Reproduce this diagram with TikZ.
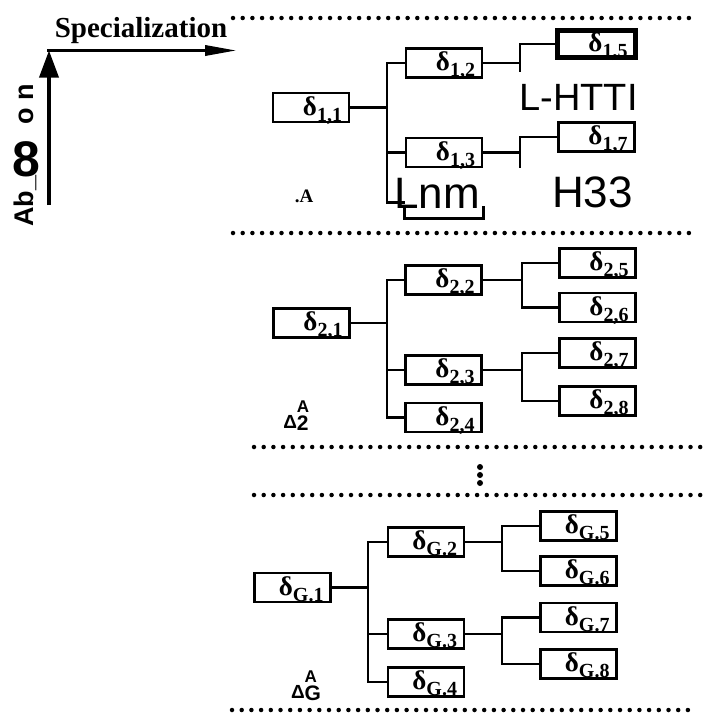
\documentclass[tikz,border=0pt]{standalone}
\usepackage{fontspec}
\setmainfont{Liberation Serif}
\newfontfamily\ocrsans{Liberation Sans}
\usetikzlibrary{arrows.meta}

\newcommand{\dlab}[1]{δ\raisebox{-6pt}{\fontsize{20}{20}\selectfont #1}}
\newcommand{\deltaset}[1]{{\ocrsans\bfseries\fontsize{19}{19}\selectfont Δ\rlap{\raisebox{16pt}{\fontsize{17}{17}\selectfont A}}\raisebox{-2pt}{\fontsize{21}{21}\selectfont #1}}}

\begin{document}
\begin{tikzpicture}[
    x=1pt, y=-1pt,
    block/.style={rectangle, draw, line width=2.6pt, minimum width=76pt, minimum height=29pt, text width=62pt, inner xsep=6pt, inner ysep=1pt, align=right, text height=20pt, text depth=5pt, font=\fontsize{27}{27}\selectfont\bfseries},
    chosen/.style={block, line width=5pt, minimum width=78pt, minimum height=27pt, inner ysep=0pt},
    link/.style={line width=2.5pt},
    axis/.style={line width=3.5pt},
    sepline/.style={line width=4.5pt, line cap=round, dash pattern=on 0pt off 9.7pt},
    scan/.style={font=\ocrsans\fontsize{38}{38}\selectfont, inner sep=0pt, anchor=base},
    caption/.style={font=\bfseries, inner sep=0pt, anchor=base}
]
\useasboundingbox (0,0) rectangle (709,715);

% Separators
\draw[sepline] (233,18) -- (690,18);
\draw[sepline] (233,233) -- (690,233);
\draw[sepline] (254,447) -- (709,447);
\draw[sepline] (254,495) -- (709,495);
\draw[sepline] (232,710) -- (693,710);
\foreach \yy in {467,475,483} \fill (480,\yy) circle (3pt);

% Axes
\coordinate (origin) at (49,50.5);
\coordinate (specend) at (237,50.5);
\coordinate (abstail) at (49,205);
\draw[axis, -{Triangle[length=27pt, width=19pt]}] (abstail) -- (origin);
\draw[axis, -{Triangle[length=32pt, width=10pt]}] ([xshift=-1.75pt]origin) -- (specend);
\node[caption, font=\bfseries\fontsize{29}{29}\selectfont] (spec) at (141,37) {Specialization};
\node[caption, font=\ocrsans\bfseries\fontsize{27}{27}\selectfont, rotate=90] (abs1) at (34,201) {Ab\_};
\node[caption, font=\ocrsans\bfseries\fontsize{50}{50}\selectfont] (abs2) at (26,176) {8};
\node[caption, font=\ocrsans\bfseries\fontsize{27}{27}\selectfont, rotate=90] (abs3) at (34,104) {o\hspace{8pt}n};

% Level 1
\node[block] (d11) at (311,107.5) {\dlab{1,1}};
\node[block] (d12) at (444,63) {\dlab{1,2}};
\node[block] (d13) at (444,152.5) {\dlab{1,3}};
\node[block, draw=none] (d14) at (444,202.5) {};
\node[chosen] (d15) at (596.5,44) {\dlab{1,5}};
\node[block] (d17) at (596.5,137) {\dlab{1,7}};
\draw[line width=2.6pt] ([yshift=12pt]d14.south west) |- (d14.south east) -- ([yshift=12pt]d14.south east);
\node[caption, font=\bfseries\fontsize{19}{19}\selectfont] (set1) at (304,202) {.A};
\node[scan] (ocr1) at (578.5,110) {L-HTTI};
\node[scan, font=\ocrsans\fontsize{44}{44}\selectfont] (ocr2) at (592.5,207) {H33};
\node[scan, font=\ocrsans\fontsize{44}{44}\selectfont] (ocr3) at (437,208) {Lnm};

\coordinate (j1) at (387,107.5);
\coordinate (k1) at (520,63);
\coordinate (k2) at (520,152.5);
\draw[link] (d11) -- (j1);
\draw[link] (d12.west) -| (j1) |- (d14.west);
\draw[link] (j1 |- d13) -- (d13);
\draw[link] (d12) -- (k1);
\draw[link] (d15.west) -| (k1) -- ++(0,9);
\draw[link] (d13) -- (k2);
\draw[link] (d17.west) -| (k2) -- ++(0,15);

% Level 2
\node[block] (d21) at (311.5,323) {\dlab{2,1}};
\node[block] (d22) at (443.5,280) {\dlab{2,2}};
\node[block] (d23) at (443.5,370) {\dlab{2,3}};
\node[block] (d24) at (443.5,417.5) {\dlab{2,4}};
\node[block] (d25) at (597.5,263) {\dlab{2,5}};
\node[block] (d26) at (597.5,307.5) {\dlab{2,6}};
\node[block] (d27) at (597.5,353) {\dlab{2,7}};
\node[block] (d28) at (597.5,401) {\dlab{2,8}};
\node[inner sep=0pt, anchor=base] (set2) at (296,428) {\deltaset{2}};

\coordinate (j2) at (387,323);
\coordinate (k3) at (522,280);
\coordinate (k4) at (522,370);
\draw[link] (d21) -- (j2);
\draw[link] (d22.west) -| (j2) |- (d24.west);
\draw[link] (j2 |- d23) -- (d23);
\draw[link] (d22) -- (k3);
\draw[link] (d25.west) -| (k3) |- (d26.west);
\draw[link] (d23) -- (k4);
\draw[link] (d27.west) -| (k4) |- (d28.west);

% Level G
\node[block] (g1) at (292.5,587.5) {\dlab{G.1}};
\node[block] (g2) at (426,542) {\dlab{G.2}};
\node[block] (g3) at (426,634) {\dlab{G.3}};
\node[block] (g4) at (426,682) {\dlab{G.4}};
\node[block] (g5) at (578.5,526) {\dlab{G.5}};
\node[block] (g6) at (578.5,571) {\dlab{G.6}};
\node[block] (g7) at (578.5,617.5) {\dlab{G.7}};
\node[block] (g8) at (578.5,664) {\dlab{G.8}};
\node[inner sep=0pt, anchor=base] (setg) at (306,698) {\deltaset{G}};

\coordinate (j3) at (368,587.5);
\coordinate (k5) at (502,542);
\coordinate (k6) at (502,634);
\draw[link] (g1) -- (j3);
\draw[link] (g2.west) -| (j3) |- (g4.west);
\draw[link] (j3 |- g3) -- (g3);
\draw[link] (g2) -- (k5);
\draw[link] (g5.west) -| (k5) |- (g6.west);
\draw[link] (g3) -- (k6);
\draw[link] (g7.west) -| (k6) |- (g8.west);

\end{tikzpicture}
\end{document}
